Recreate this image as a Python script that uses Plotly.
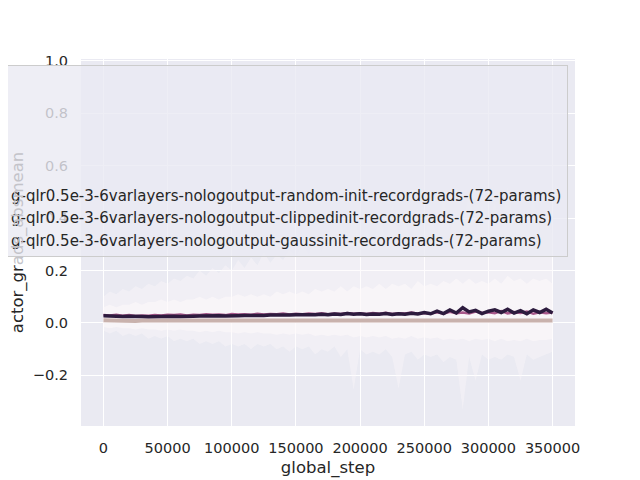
import numpy as np
import plotly.graph_objects as go

steps = list(range(0, 350001, 5000))

series_names = [
    "g-qlr0.5e-3-6varlayers-nologoutput-random-init-recordgrads-(72-params)",
    "g-qlr0.5e-3-6varlayers-nologoutput-clippedinit-recordgrads-(72-params)",
    "g-qlr0.5e-3-6varlayers-nologoutput-gaussinit-recordgrads-(72-params)",
]

light_mean = [
    0.010, 0.009, 0.010, 0.009, 0.009, 0.008, 0.009, 0.009, 0.008, 0.009, 0.009,
    0.009, 0.008, 0.009, 0.009, 0.008, 0.009, 0.009, 0.008, 0.009, 0.009,
    0.008, 0.009, 0.009, 0.008, 0.009, 0.009, 0.008, 0.009, 0.009, 0.008,
    0.009, 0.009, 0.008, 0.009, 0.009, 0.008, 0.009, 0.009, 0.008, 0.009,
    0.009, 0.008, 0.009, 0.009, 0.008, 0.009, 0.009, 0.008, 0.009, 0.009,
    0.008, 0.009, 0.009, 0.008, 0.009, 0.009, 0.008, 0.009, 0.009, 0.008,
    0.009, 0.009, 0.008, 0.009, 0.009, 0.008, 0.009, 0.009, 0.008, 0.009,
]

mid_mean = [
    0.030, 0.029, 0.031, 0.028, 0.030, 0.027, 0.029, 0.028, 0.030, 0.029, 0.031,
    0.030, 0.032, 0.029, 0.031, 0.030, 0.033, 0.031, 0.032, 0.030, 0.034,
    0.032, 0.033, 0.031, 0.035, 0.032, 0.034, 0.033, 0.036, 0.032, 0.035,
    0.033, 0.036, 0.034, 0.037, 0.033, 0.036, 0.034, 0.038, 0.035, 0.037,
    0.034, 0.038, 0.035, 0.039, 0.034, 0.037, 0.036, 0.040, 0.035, 0.038,
    0.036, 0.041, 0.035, 0.043, 0.037, 0.040, 0.036, 0.044, 0.038, 0.041,
    0.037, 0.045, 0.036, 0.042, 0.038, 0.044, 0.035, 0.041, 0.037, 0.040,
]

dark_mean = [
    0.028, 0.026, 0.027, 0.025, 0.026, 0.024, 0.025, 0.024, 0.025, 0.026, 0.025,
    0.026, 0.025, 0.027, 0.026, 0.027, 0.028, 0.027, 0.028, 0.027, 0.029,
    0.028, 0.029, 0.028, 0.030, 0.029, 0.030, 0.029, 0.031, 0.030, 0.031,
    0.030, 0.032, 0.031, 0.033, 0.031, 0.034, 0.032, 0.036, 0.033, 0.035,
    0.032, 0.034, 0.033, 0.036, 0.032, 0.035, 0.033, 0.037, 0.034, 0.040,
    0.035, 0.045, 0.036, 0.050, 0.038, 0.058, 0.042, 0.048, 0.036, 0.045,
    0.050, 0.040, 0.052, 0.038, 0.047, 0.035, 0.050, 0.040, 0.052, 0.038,
]

outer_upper = [
    0.10, 0.12, 0.11, 0.13, 0.12, 0.14, 0.13, 0.15, 0.14, 0.16, 0.15,
    0.17, 0.16, 0.18, 0.17, 0.20, 0.18, 0.21, 0.19, 0.22, 0.20,
    0.24, 0.21, 0.25, 0.22, 0.27, 0.23, 0.26, 0.24, 0.28, 0.25,
    0.30, 0.26, 0.32, 0.27, 0.35, 0.28, 0.38, 0.30, 0.42, 0.31,
    0.36, 0.30, 0.40, 0.32, 0.45, 0.33, 0.38, 0.31, 0.44, 0.34,
    0.40, 0.33, 0.48, 0.35, 0.42, 0.36, 0.50, 0.34, 0.45, 0.38,
    0.46, 0.35, 0.52, 0.37, 0.44, 0.36, 0.48, 0.35, 0.42, 0.33,
]

outer_lower = [
    -0.03, -0.04, -0.03, -0.05, -0.04, -0.05, -0.04, -0.06, -0.05, -0.06, -0.05,
    -0.07, -0.06, -0.07, -0.06, -0.08, -0.07, -0.08, -0.07, -0.09, -0.08,
    -0.09, -0.08, -0.10, -0.08, -0.09, -0.08, -0.10, -0.09, -0.11, -0.09,
    -0.10, -0.09, -0.12, -0.10, -0.11, -0.09, -0.13, -0.10, -0.255, -0.10,
    -0.12, -0.11, -0.12, -0.10, -0.13, -0.25, -0.12, -0.11, -0.14, -0.12,
    -0.13, -0.12, -0.15, -0.13, -0.14, -0.33, -0.13, -0.22, -0.12, -0.14,
    -0.13, -0.14, -0.12, -0.13, -0.22, -0.12, -0.14, -0.13, -0.12, -0.11,
]

inner_upper = [
    0.06, 0.07, 0.06, 0.07, 0.07, 0.08, 0.07, 0.08, 0.08, 0.09, 0.08,
    0.09, 0.08, 0.09, 0.09, 0.10, 0.09, 0.10, 0.09, 0.10, 0.10,
    0.11, 0.10, 0.11, 0.10, 0.11, 0.10, 0.12, 0.11, 0.12, 0.11,
    0.12, 0.11, 0.13, 0.12, 0.13, 0.12, 0.14, 0.12, 0.14, 0.13,
    0.14, 0.13, 0.15, 0.13, 0.15, 0.14, 0.15, 0.13, 0.16, 0.14,
    0.15, 0.14, 0.16, 0.15, 0.17, 0.15, 0.17, 0.15, 0.16, 0.15,
    0.17, 0.15, 0.18, 0.16, 0.17, 0.15, 0.17, 0.16, 0.17, 0.15,
]

inner_lower = [
    -0.015, -0.02, -0.015, -0.02, -0.02, -0.025, -0.02, -0.025, -0.025, -0.03, -0.025,
    -0.03, -0.025, -0.03, -0.03, -0.035, -0.03, -0.035, -0.03, -0.035, -0.035,
    -0.04, -0.035, -0.04, -0.035, -0.04, -0.04, -0.045, -0.04, -0.045, -0.04,
    -0.045, -0.04, -0.05, -0.045, -0.05, -0.045, -0.05, -0.045, -0.055, -0.05,
    -0.055, -0.05, -0.055, -0.05, -0.06, -0.055, -0.06, -0.05, -0.06, -0.055,
    -0.06, -0.055, -0.065, -0.06, -0.065, -0.06, -0.07, -0.06, -0.065, -0.06,
    -0.07, -0.06, -0.07, -0.065, -0.07, -0.06, -0.07, -0.065, -0.065, -0.06,
]

colors = ["#c9b2ad", "#a8588b", "#2d1b3e"]
widths = [4, 2.5, 3.5]

x_ticks = [0, 50000, 100000, 150000, 200000, 250000, 300000, 350000]
y_ticks = [-0.2, 0.0, 0.2, 0.4, 0.6, 0.8, 1.0]

fig = go.Figure()

# bands
fig.add_trace(go.Scatter(x=steps, y=outer_lower, mode="lines", line=dict(width=0),
                         showlegend=False, hoverinfo="skip"))
fig.add_trace(go.Scatter(x=steps, y=outer_upper, mode="lines", line=dict(width=0),
                         fill="tonexty", fillcolor="rgba(252,248,250,0.40)",
                         showlegend=False, hoverinfo="skip"))
fig.add_trace(go.Scatter(x=steps, y=inner_lower, mode="lines", line=dict(width=0),
                         showlegend=False, hoverinfo="skip"))
fig.add_trace(go.Scatter(x=steps, y=inner_upper, mode="lines", line=dict(width=0),
                         fill="tonexty", fillcolor="rgba(253,249,250,0.60)",
                         showlegend=False, hoverinfo="skip"))

# blank legend rows (the hidden part of the original legend)
for i in range(5):
    fig.add_trace(go.Scatter(x=[None], y=[None], mode="lines",
                             line=dict(width=0, color="rgba(0,0,0,0)"),
                             name=" " * (i + 1), showlegend=True, hoverinfo="skip"))

for name, vals, c, w in zip(series_names, [light_mean, mid_mean, dark_mean], colors, widths):
    fig.add_trace(go.Scatter(x=steps, y=vals, mode="lines", name=name,
                             line=dict(color=c, width=w)))

# the page body has an 8px margin, so the figure is drawn 8px in from the corner
W, H = 632, 472
fig.update_layout(
    width=W, height=H,
    margin=dict(l=73, r=65, t=51, b=54, autoexpand=False),
    paper_bgcolor="white",
    plot_bgcolor="#EAEAF2",
    font=dict(family="DejaVu Sans", color="#262626", size=14.5),
    legend=dict(
        x=(560 - 73) / (W - 73 - 65), xanchor="right",
        y=(418 - 57) / (H - 51 - 54), yanchor="top",
        bgcolor="rgba(234,234,242,0.8)", bordercolor="#cccccc", borderwidth=1,
        font=dict(size=15.0, color="#262626"), tracegroupgap=0,
        traceorder="normal",
    ),
    xaxis=dict(
        range=[-17500, 367500], tickvals=x_ticks, ticktext=[str(t) for t in x_ticks],
        showgrid=True, gridcolor="white", gridwidth=1, zeroline=False,
        ticks="", ticklabelstandoff=11, showline=False,
        title=dict(text="global_step", font=dict(size=16.5), standoff=6),
    ),
    yaxis=dict(
        range=[-0.393, 1.007], tickvals=y_ticks, tickformat=".1f",
        showgrid=True, gridcolor="white", gridwidth=1, zeroline=False,
        ticks="", ticklabelstandoff=12, showline=False,
        title=dict(
            text='actor_gr<span style="color:#c3c3c9">ads_absmean</span>',
            font=dict(size=16.5), standoff=11,
        ),
    ),
)

fig.write_html("out.html")
